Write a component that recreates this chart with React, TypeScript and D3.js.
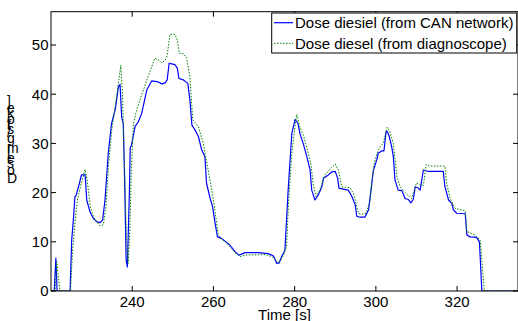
import React from "react";
import * as d3 from "d3";

const canTime = [220, 220.8, 221.2, 221.5, 224.7, 225.1, 225.5, 225.9, 226.2, 227, 227.5, 228.4, 228.8, 229.6, 230.4, 231.2, 232.1, 232.7, 233.3, 234.1, 234.9, 235.8, 236.6, 237, 237.4, 237.8, 238.2, 238.5, 238.8, 239.3, 239.5, 239.8, 240.7, 241.5, 242.3, 243.6, 244.8, 246.4, 247.3, 248.1, 248.6, 249.1, 249.5, 250.5, 251.1, 251.5, 252.6, 253.7, 254.2, 254.7, 255.5, 256.3, 257.1, 257.9, 258.3, 259.2, 259.8, 260.4, 261, 262, 264.1, 265.3, 266.3, 267.8, 271.1, 273.5, 274.8, 275.6, 276.2, 276.8, 277.6, 278.4, 279.3, 280.1, 280.8, 281.3, 282.1, 283, 283.8, 284.2, 285, 285.8, 286.7, 287.1, 288.3, 289.1, 290, 290.6, 290.9, 292, 293.2, 294.1, 294.9, 295.3, 296.1, 297.3, 298.2, 298.8, 299.4, 300.2, 300.6, 301.5, 302, 302.5, 302.8, 303.3, 303.9, 304.3, 304.7, 305.5, 306.4, 307.2, 308, 308.6, 309.2, 309.7, 310.3, 310.9, 311.7, 312.2, 312.9, 316.6, 317, 317.9, 318.7, 319.1, 319.9, 322, 322.4, 323.2, 324.8, 325.5, 326.1, 335];
const canDose = [0, 0, 6.7, 0, 0, 10.4, 14.4, 19.2, 19.5, 21.9, 23.6, 23.6, 18.5, 16.1, 14.8, 14.1, 13.9, 14.4, 18.5, 28, 34, 36.8, 41.5, 42, 35.4, 34, 19.9, 6.3, 4.9, 19.9, 29, 29.6, 33.4, 34.4, 36, 40.9, 42.7, 42.5, 42.1, 42.3, 42.9, 46.3, 46.2, 46, 45.3, 43.2, 42.9, 42.2, 38.8, 33.7, 32.7, 31.4, 28.7, 27.3, 21.9, 18.8, 17.1, 13.8, 11, 10.7, 9.3, 8, 7.3, 7.8, 7.8, 7.6, 7.1, 5.6, 5.7, 7, 8.3, 20.5, 32, 34.9, 34.1, 32, 30, 27.3, 24.6, 20.5, 18.5, 19.5, 21.2, 22.9, 23.6, 24.2, 24.3, 22.9, 20.9, 20.7, 20.5, 19.2, 17.5, 15.2, 15, 15, 16.5, 20.5, 24.6, 26.6, 28, 28.5, 28.5, 32.4, 32.4, 31.4, 29.3, 27.3, 22.6, 20.5, 20.4, 18.8, 18.6, 17.9, 18.6, 21.2, 21, 20.5, 24.6, 24.5, 24.3, 24.3, 21.2, 18.5, 17.8, 16.5, 15.8, 15.7, 11.4, 11, 10.9, 10, 0, 0];

const diagTime = [220, 221, 221.4, 222.2, 224.8, 225.3, 225.9, 226.5, 227.5, 228.4, 229, 229.7, 230.5, 231.3, 232.2, 232.9, 233.5, 234.2, 235, 236, 237.2, 237.6, 238.1, 238.6, 239, 239.4, 239.8, 240.3, 241, 241.9, 243.6, 245.6, 246.4, 247.3, 248.1, 248.6, 249.3, 250.5, 251.1, 251.6, 252.6, 253.4, 254.2, 254.9, 256.3, 257.5, 258.7, 260, 261.2, 262.3, 263, 265.5, 266.5, 268, 273, 274.8, 275.8, 276.5, 277.2, 278, 278.5, 279.3, 280.1, 280.5, 281.2, 282.2, 283.2, 284, 284.6, 285.3, 286.2, 287.4, 288.6, 290, 290.8, 291.6, 293.6, 294.5, 295.2, 295.7, 296.5, 297.6, 298.5, 299, 299.6, 300.3, 301, 301.8, 302.8, 303.4, 304.3, 305.2, 306, 307.2, 308.8, 310, 311, 311.7, 312.4, 313.3, 317, 317.4, 318.3, 319.5, 322, 322.4, 324.4, 325.7, 326.7, 335];
const diagDose = [0, 0, 6, 0, 0, 8, 14, 18.5, 22, 24.7, 22, 17, 15, 14, 13.2, 13.5, 17, 26, 33, 38.5, 45.9, 40, 25, 10, 5.6, 12, 25, 34, 36.5, 38.8, 42.9, 47.3, 47, 46.4, 46.9, 47.8, 52.2, 52.2, 51, 48.3, 48.3, 47.3, 43.6, 34.8, 33.4, 30, 24.6, 18.5, 11.4, 10.3, 10, 7.6, 7, 7.3, 7.4, 6.8, 5.8, 6.2, 7.2, 9, 18, 28, 33.5, 35.9, 33.5, 31.5, 28.5, 25.8, 21.5, 19.2, 20.5, 23.5, 24.7, 25.8, 24.5, 21.2, 21, 19.8, 17.5, 15.8, 15.6, 15.8, 18, 22, 26, 28, 29.3, 30, 33.3, 32.5, 30, 23.2, 21.2, 20, 18.8, 22, 21.5, 21.5, 25.7, 25.4, 25.4, 22, 18.8, 16.8, 16.3, 12.1, 11.4, 10.3, 0, 0];

const xTicks = [240, 260, 280, 300, 320];
const yTicks = [0, 10, 20, 30, 40, 50];
const seriesNames = ["Dose diesiel (from CAN network)", "Dose diesel (from diagnoscope)"];
const yLabel = "Dose [mg/stroke]";
const xLabel = "Time [s]";

const W = 518, H = 321;
const L = 51, R = 518, T = 11.7, B = 291;
const FONT = "'Liberation Sans', Arial, Helvetica, sans-serif";

export default function App() {
  const x = d3.scaleLinear().domain([220, 335]).range([L, R]);
  const y = d3.scaleLinear().domain([0, 56.77]).range([B, T]);
  const mk = (ts: number[], vs: number[]) =>
    d3.line<number>().x((_, i) => x(ts[i])).y((v) => y(v))(vs) || "";
  const canPath = mk(canTime, canDose);
  const diagPath = mk(diagTime, diagDose);

  const tick = 5;
  return (
    <svg width={W} height={H} style={{ position: "absolute", left: 0, top: 0, background: "#fff" }} fontFamily={FONT}>
      <defs>
        <clipPath id="plot">
          <rect x={L} y={T} width={R - L} height={B - T} />
        </clipPath>
      </defs>
      <rect x={0} y={0} width={W} height={H} fill="#fff" />
      <g clipPath="url(#plot)">
        <path d={canPath} fill="none" stroke="#0000ff" strokeWidth={1.2} strokeLinejoin="round" />
        <path d={diagPath} fill="none" stroke="#008000" strokeWidth={1} strokeDasharray="1.5,1.5" />
      </g>
      <rect x={L} y={T} width={R - L} height={B - T} fill="none" stroke="#000" strokeWidth={1} />
      {xTicks.map((t) => (
        <g key={"x" + t}>
          <line x1={x(t)} x2={x(t)} y1={B} y2={B - tick} stroke="#000" />
          <line x1={x(t)} x2={x(t)} y1={T} y2={T + tick} stroke="#000" />
          <text x={x(t)} y={306.5} fontSize={15} textAnchor="middle">{t}</text>
        </g>
      ))}
      {yTicks.map((v) => (
        <g key={"y" + v}>
          <line x1={L} x2={L + tick} y1={y(v)} y2={y(v)} stroke="#000" />
          <line x1={R - tick} x2={R} y1={y(v)} y2={y(v)} stroke="#000" />
          <text x={48.5} y={y(v) + 5.4} fontSize={15} textAnchor="end">{v}</text>
        </g>
      ))}
      <text x={(L + R) / 2} y={319.5} fontSize={15} textAnchor="middle">{xLabel}</text>
      <text
        transform="translate(7,183) rotate(-90)"
        rotate="90"
        fontSize={14}
        letterSpacing={-1.7}
      >
        {yLabel}
      </text>
      <rect x={271.7} y={13} width={245} height={40} fill="#fff" stroke="#000" strokeWidth={1} />
      <line x1={274} x2={293} y1={22.7} y2={22.7} stroke="#0000ff" strokeWidth={1.2} />
      <line x1={274} x2={293} y1={43.3} y2={43.3} stroke="#008000" strokeWidth={1} strokeDasharray="1.5,1.5" />
      <text x={295} y={28.3} fontSize={15}>{seriesNames[0]}</text>
      <text x={295} y={49.1} fontSize={15}>{seriesNames[1]}</text>
    </svg>
  );
}
